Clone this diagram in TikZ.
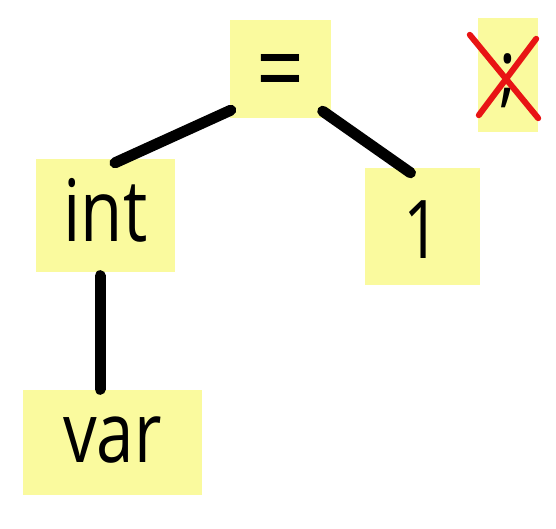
\documentclass[tikz,border=0pt]{standalone}
\usepackage{fontspec}
\newfontfamily\tokfont[FakeStretch=0.8]{Open Sans}
\definecolor{tokyellow}{RGB}{250,250,158}
\definecolor{crossred}{RGB}{232,20,20}

\begin{document}
\begin{tikzpicture}[x=1pt,y=1pt,
    tok/.style={fill=tokyellow,inner sep=0pt,text depth=0pt},
    edge/.style={line width=11pt,line cap=round},
    cross/.style={crossred,line width=6pt,line cap=round}]
    \useasboundingbox (0,0) rectangle (556,528);

    \node[tok,minimum width=101pt,minimum height=98pt,text height=74pt,
      font=\tokfont\fontsize{105pt}{115pt}\selectfont] (eq) at (280.5,459) {=};
    \node[tok,minimum width=60pt,minimum height=114pt,text height=46pt,
      font=\tokfont\fontsize{80pt}{90pt}\selectfont] (semi) at (508,453) {;};
    \node[tok,minimum width=139pt,minimum height=113pt,text height=51pt,
      font=\tokfont\fontsize{86pt}{96pt}\selectfont] (int) at (105.5,312.5) {int};
    \node[tok,minimum width=115pt,minimum height=117pt,text height=63pt,
      font=\tokfont\fontsize{81pt}{90pt}\selectfont] (one) at (422.5,301.5) {1};
    \node[tok,minimum width=179pt,minimum height=105pt,text height=39pt,
      font=\tokfont\fontsize{84pt}{92pt}\selectfont] (var) at (112.5,85.5) {var};

    \draw[edge] ([shift={(1,8)}]eq.south west) -- ([shift={(9.5,-4)}]int.north);
    \draw[edge] ([shift={(-8.5,7)}]eq.south east) -- ([shift={(-12,-5)}]one.north);
    \draw[edge] ([shift={(-5.5,-3.5)}]int.south) -- ([shift={(-12.5,0.5)}]var.north);

    % the semicolon is crossed out
    \draw[cross] ([shift={(-8,-17)}]semi.north west) -- ([shift={(0,14)}]semi.south east);
    \draw[cross] ([shift={(-2,-21)}]semi.north east) -- ([shift={(1,17)}]semi.south west);
  \end{tikzpicture}
\end{document}
